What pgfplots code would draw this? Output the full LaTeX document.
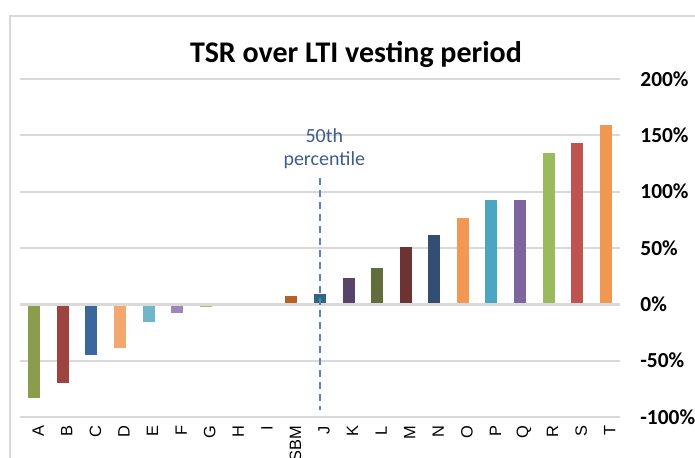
\documentclass[border=0pt]{standalone}
\usepackage{pgfplots}
\pgfplotsset{compat=1.18}
\usepackage{fontspec}
\setmainfont{Carlito}
\newfontfamily\arialf{Liberation Sans}
\definecolor{gridc}{HTML}{D9D9D9}
\definecolor{cA}{HTML}{8A9D4C}
\definecolor{cB}{HTML}{9E4340}
\definecolor{cC}{HTML}{3A679C}
\definecolor{cD}{HTML}{F4A870}
\definecolor{cE}{HTML}{70B5C9}
\definecolor{cF}{HTML}{9C87B8}
\definecolor{cG}{HTML}{A6C27A}
\definecolor{cH}{HTML}{DA7F7E}
\definecolor{cSBM}{HTML}{B65F27}
\definecolor{cJ}{HTML}{2F6681}
\definecolor{cK}{HTML}{584469}
\definecolor{cL}{HTML}{616E3B}
\definecolor{cM}{HTML}{6D3332}
\definecolor{cN}{HTML}{344D73}
\definecolor{cO}{HTML}{F29852}
\definecolor{cP}{HTML}{4BA7C1}
\definecolor{cQ}{HTML}{7F65A0}
\definecolor{cR}{HTML}{9BBA5B}
\definecolor{cS}{HTML}{BE5350}
\definecolor{cT}{HTML}{F29750}
\definecolor{annot}{HTML}{3F5C8C}
\definecolor{dashc}{HTML}{5B84BD}
\begin{document}
\begin{tikzpicture}
\useasboundingbox (0,0) rectangle (347.5pt,228.5pt);
\draw[gridc, line width=0.75pt] (5pt,-5pt) -- (5pt,220.5pt) -- (360pt,220.5pt);
\node[anchor=base, font=\fontsize{15}{18}\selectfont\bfseries] at (178pt,197.5pt) {TSR over LTI vesting period};
\begin{axis}[
  at={(10pt,20pt)}, anchor=south west,
  scale only axis, width=300pt, height=169pt,
  xmin=-0.5, xmax=20.5, ymin=-100, ymax=200,
  ybar, bar width=0.42,
  axis line style={draw=none},
  major tick style={draw=none},
  ymajorgrids, grid style={gridc, line width=1pt},
  xtick={0,...,20},
  xticklabels={A,B,C,D,E,F,G,H,I,SBM,J,K,L,M,N,O,P,Q,R,S,T},
  xticklabel style={rotate=90, anchor=east, inner sep=0pt, yshift=-2pt, font=\arialf\fontsize{8.2}{9}\selectfont},
  ytick={-100,-50,0,50,100,150,200},
  yticklabels={-100\%,-50\%,0\%,50\%,100\%,150\%,200\%},
  yticklabel pos=right,
  yticklabel style={anchor=west, inner sep=0pt, xshift=10pt, font=\fontsize{10.7}{12}\selectfont\bfseries},
  clip=false,
]
\addplot[fill=cA, draw=none, bar shift=0pt] coordinates {(0,-83)};
\addplot[fill=cB, draw=none, bar shift=0pt] coordinates {(1,-69.5)};
\addplot[fill=cC, draw=none, bar shift=0pt] coordinates {(2,-45)};
\addplot[fill=cD, draw=none, bar shift=0pt] coordinates {(3,-38.5)};
\addplot[fill=cE, draw=none, bar shift=0pt] coordinates {(4,-15.7)};
\addplot[fill=cF, draw=none, bar shift=0pt] coordinates {(5,-7.7)};
\addplot[fill=cG, draw=none, bar shift=0pt] coordinates {(6,-2.8)};
\addplot[fill=cH, draw=none, bar shift=0pt] coordinates {(7,-1.5)};
\addplot[fill=cSBM, draw=none, bar shift=0pt] coordinates {(9,7.6)};
\addplot[fill=cJ, draw=none, bar shift=0pt] coordinates {(10,9.4)};
\addplot[fill=cK, draw=none, bar shift=0pt] coordinates {(11,23.6)};
\addplot[fill=cL, draw=none, bar shift=0pt] coordinates {(12,32.5)};
\addplot[fill=cM, draw=none, bar shift=0pt] coordinates {(13,51.1)};
\addplot[fill=cN, draw=none, bar shift=0pt] coordinates {(14,61.5)};
\addplot[fill=cO, draw=none, bar shift=0pt] coordinates {(15,76.6)};
\addplot[fill=cP, draw=none, bar shift=0pt] coordinates {(16,92.6)};
\addplot[fill=cQ, draw=none, bar shift=0pt] coordinates {(17,92.6)};
\addplot[fill=cR, draw=none, bar shift=0pt] coordinates {(18,134.5)};
\addplot[fill=cS, draw=none, bar shift=0pt] coordinates {(19,143.4)};
\addplot[fill=cT, draw=none, bar shift=0pt] coordinates {(20,159.4)};
\draw[gridc, line width=1.5pt] (axis cs:-0.5,0) -- (axis cs:20.5,0);
\draw[dashc, line width=1pt, dash pattern=on 3.5pt off 2.5pt] (axis cs:10,112) -- (axis cs:10,-94);
\node[align=center, text=annot, font=\fontsize{10}{11.5}\selectfont, inner sep=0pt] at (axis cs:10.15,138.5) {50th\\percentile};
\end{axis}
\end{tikzpicture}
\end{document}
